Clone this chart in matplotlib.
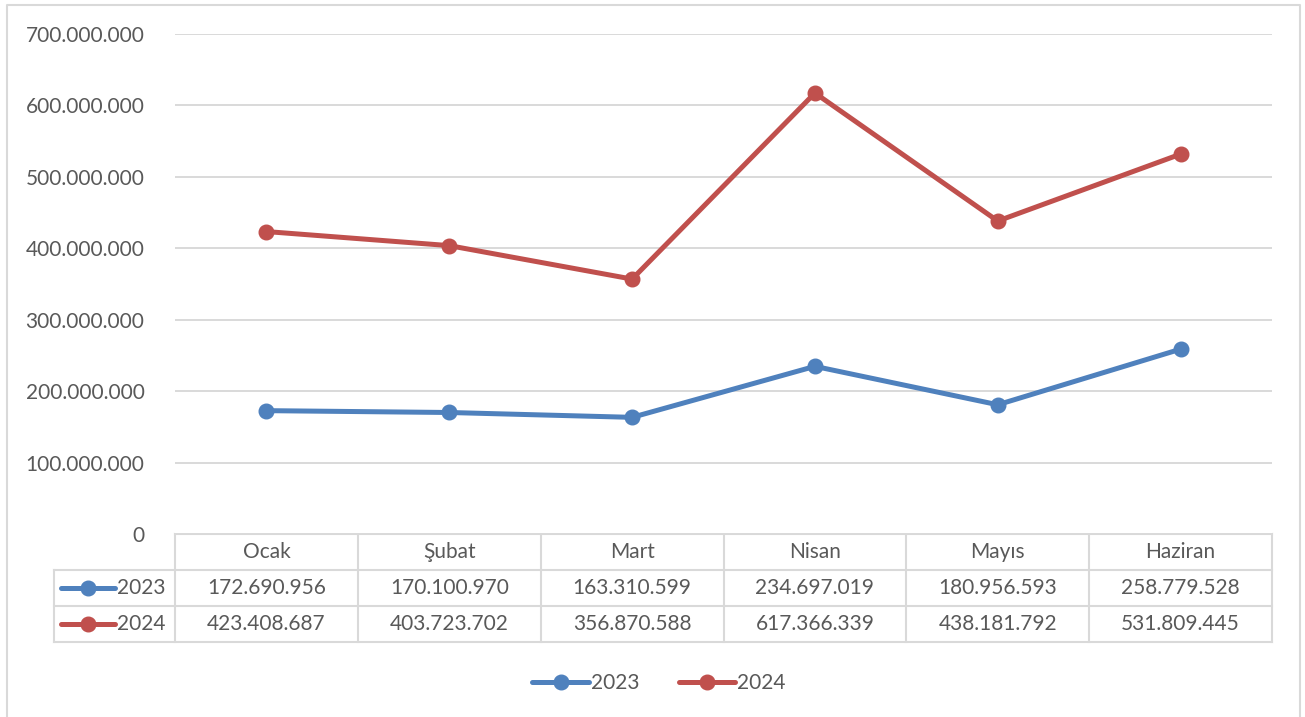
import matplotlib.pyplot as plt
from matplotlib.lines import Line2D

plt.rcParams['font.family'] = ['Lato', 'DejaVu Sans']

# veriler
aylar = ['Ocak', 'Şubat', 'Mart', 'Nisan', 'Mayıs', 'Haziran']
yil_2023 = [172690956, 170100970, 163310599, 234697019, 180956593, 258779528]
yil_2024 = [423408687, 403723702, 356870588, 617366339, 438181792, 531809445]
seriler = ['2023', '2024']
renkler = ['#4F81BD', '#C0504D']
y_ticks = [0, 100000000, 200000000, 300000000, 400000000, 500000000, 600000000, 700000000]

W, H = 1305, 717
gri = '#D9D9D9'
yazi = '#595959'
fs = 15
lw = 3.6


def nokta(v):
    # 1.234.567 biçimi
    return f'{v:,.0f}'.replace(',', '.')


fig = plt.figure(figsize=(W / 100, H / 100), dpi=100)

# grafik alanı (piksel sınırları)
x0, x1, y_top, y_bot = 175, 1272, 34, 534
ax = fig.add_axes([x0 / W, 1 - y_bot / H, (x1 - x0) / W, (y_bot - y_top) / H])
for vals, c, lab in zip([yil_2023, yil_2024], renkler, seriler):
    ax.plot(range(len(aylar)), vals, color=c, lw=lw, marker='o', ms=10.5,
            solid_capstyle='round', label=lab, zorder=3)
ax.set_xlim(-0.5, len(aylar) - 0.5)
ax.set_ylim(0, 700000000)
ax.set_yticks(y_ticks)
ax.set_yticklabels([nokta(t) for t in y_ticks], fontsize=fs, color=yazi)
ax.tick_params(axis='y', length=0, pad=22)
ax.set_xticks([])
ax.grid(axis='y', color=gri, lw=1.4)
ax.set_axisbelow(True)
for s in ax.spines.values():
    s.set_visible(False)

# tablo ve çerçeve için piksel katmanı
ov = fig.add_axes([0, 0, 1, 1], zorder=-1)
ov.set_xlim(0, W)
ov.set_ylim(H, 0)
ov.axis('off')

# dış çerçeve
ov.plot([7, 7, 1300, 1300], [H, 5, 5, H], color=gri, lw=1.5)

col_w = (x1 - x0) / len(aylar)
row_h = 36
lab_x0 = 54
r0 = y_bot
# yatay çizgiler
ov.plot([x0, x1], [r0, r0], color=gri, lw=1.5)
for i in range(1, 4):
    ov.plot([lab_x0, x1], [r0 + i * row_h] * 2, color=gri, lw=1.5)
# dikey çizgiler
ov.plot([lab_x0, lab_x0], [r0 + row_h, r0 + 3 * row_h], color=gri, lw=1.5)
for j in range(len(aylar) + 1):
    xx = x0 + j * col_w
    ov.plot([xx, xx], [r0, r0 + 3 * row_h], color=gri, lw=1.5)

for j, ay in enumerate(aylar):
    cx = x0 + (j + 0.5) * col_w
    ov.text(cx, r0 + row_h / 2, ay, ha='center', va='center', fontsize=fs, color=yazi)
    for i, vals in enumerate([yil_2023, yil_2024]):
        ov.text(cx, r0 + (i + 1.5) * row_h, nokta(vals[j]), ha='center', va='center',
                fontsize=fs, color=yazi)

for i, (c, lab) in enumerate(zip(renkler, seriler)):
    yy = r0 + (i + 1.5) * row_h
    ov.plot([61, 115], [yy, yy], color=c, lw=lw, solid_capstyle='round')
    ov.plot([88], [yy], 'o', color=c, ms=10.5)
    ov.text(117, yy, lab, ha='left', va='center', fontsize=fs, color=yazi)

# alt gösterge
handles = [Line2D([], [], color=c, lw=lw, marker='o', ms=10.5, solid_capstyle='round')
           for c in renkler]
fig.legend(handles, seriler, loc='center', bbox_to_anchor=(659 / W, 1 - 683 / H),
           ncol=2, frameon=False, fontsize=fs, handlelength=2.7, handletextpad=0.1,
           columnspacing=1.9, labelcolor=yazi)

fig.savefig('out.png', dpi=100)
